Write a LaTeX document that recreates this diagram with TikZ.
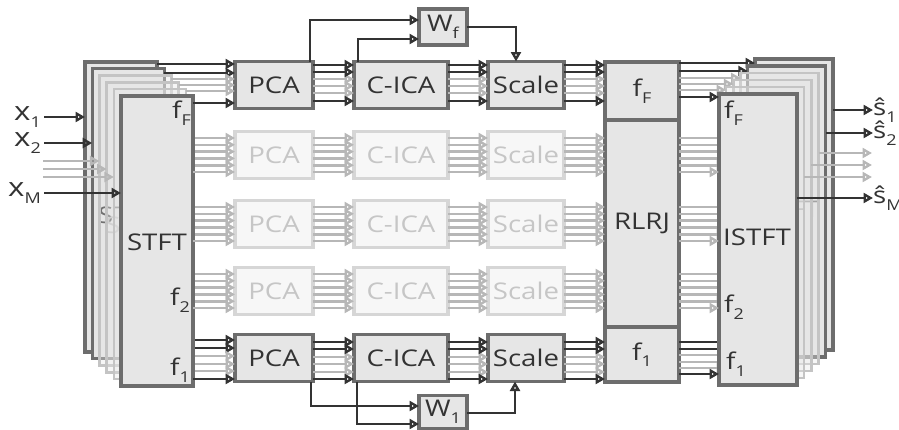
\documentclass[tikz,border=0pt]{standalone}
\usepackage{fontspec}
\setmainfont{Open Sans}[FakeStretch=1.2]
\usetikzlibrary{arrows.meta}
\definecolor{dk}{HTML}{333333}
\definecolor{bd}{HTML}{6D6D6D}
\definecolor{bf}{HTML}{E6E6E6}
\definecolor{lbd}{HTML}{C4C4C4}
\definecolor{gbd}{HTML}{D6D6D6}
\definecolor{gbf}{HTML}{F7F7F7}
\definecolor{gtx}{HTML}{C6C6C6}
\definecolor{gl}{HTML}{B7B7B7}
\newcommand\fs{\fontsize{23}{26}\selectfont}
\newcommand\fx{\fontsize{26}{30}\selectfont}
\newcommand\sbs[1]{\raisebox{-0.28em}{\fontsize{15}{15}\selectfont #1}}
\begin{document}
\begin{tikzpicture}[x=1pt,y=-1pt,
  box/.style={draw=bd,fill=bf,line width=3.2pt,inner sep=0pt,outer sep=0pt,text=dk,font=\fs},
  lbox/.style={draw=lbd,fill=bf,fill opacity=0.35,line width=2.4pt,inner sep=0pt,outer sep=0pt},
  gbox/.style={draw=gbd,fill=gbf,line width=3.2pt,inner sep=0pt,outer sep=0pt,text=gtx,font=\fs},
  lbl/.style={inner sep=0pt,font=\fs,text=dk},
  arD/.style={draw=dk,line width=2.6pt,-{Triangle[open,length=9.5pt,width=10pt]}},
  arG/.style={draw=gl,line width=2.6pt,-{Triangle[open,length=9.5pt,width=10pt]}}]
\useasboundingbox (0,0) rectangle (899,429);

% pipeline rows
\foreach \rr/\cy/\st in {A/85/box, B/155/gbox, C/224/gbox, D/291/gbox, E/358/box} {
  \node[\st, minimum width=78pt, minimum height=47pt] (pca\rr) at (274,\cy) {PCA};
  \node[\st, minimum width=94pt, minimum height=47pt] (cica\rr) at (401,\cy) {C-ICA};
  \node[\st, minimum width=76pt, minimum height=47pt] (scale\rr) at (526,\cy) {Scale};
}
% RLRJ
\node[box, minimum width=74pt, minimum height=58pt, anchor=north west] (rlrjF) at (605,62) {f\sbs{F}};
\node[box, minimum width=74pt, minimum height=207pt, anchor=north west] (rlrjM) at (605,120) {RLRJ};
\node[box, minimum width=74pt, minimum height=55pt, anchor=north west] (rlrj1) at (605,327) {f\sbs{1}};
% W boxes
\node[box, minimum width=48pt, minimum height=36pt] (wf) at (443,27) {W\sbs{f}};
\node[box, minimum width=48pt, minimum height=33pt] (w1) at (443,412) {W\sbs{1}};

% inter-stage arrows, gray rows
\foreach \rr/\cy in {B/155, C/224, D/291} {
  \foreach \ii in {0,...,5} {
    \pgfmathsetmacro\yy{\cy-17+6.8*\ii}
    \draw[arG] (pca\rr.east |- 0,\yy) -- (cica\rr.west |- 0,\yy);
    \draw[arG] (cica\rr.east |- 0,\yy) -- (scale\rr.west |- 0,\yy);
    \draw[arG] (scale\rr.east |- 0,\yy) -- (rlrjM.west |- 0,\yy);
  }
}
% top row
\foreach \yy/\aro in {79/arG, 86/arG, 93/arG, 65/arD, 72/arD, 101/arD} {
  \draw[\aro] (pcaA.east |- 0,\yy) -- (cicaA.west |- 0,\yy);
  \draw[\aro] (cicaA.east |- 0,\yy) -- (scaleA.west |- 0,\yy);
  \draw[\aro] (scaleA.east |- 0,\yy) -- (rlrjF.west |- 0,\yy);
}
% bottom row
\foreach \yy/\aro in {357/arG, 364/arG, 372/arG, 342/arD, 349/arD, 379/arD} {
  \draw[\aro] (pcaE.east |- 0,\yy) -- (cicaE.west |- 0,\yy);
  \draw[\aro] (cicaE.east |- 0,\yy) -- (scaleE.west |- 0,\yy);
  \draw[\aro] (scaleE.east |- 0,\yy) -- (rlrj1.west |- 0,\yy);
}

% STFT stack
\foreach \kk/\ya/\ye/\st/\aro in {0/64/340/box/arD, 1/73/348/box/arD, 2/79/356/lbox/arG, 3/85/364/lbox/arG, 4/91/371/lbox/arG, 5/103/379/box/arD} {
  \pgfmathsetmacro\xL{85+7.2*\kk}
  \pgfmathsetmacro\yT{62+6.8*\kk}
  \node[\st, minimum width=72pt, minimum height=290pt, anchor=north west] (stft\kk) at (\xL,\yT) {};
  \ifnum\kk=1 \node[lbl] (stftl1) at (\xL+36,\yT+146) {STFT}; \fi
  \ifnum\kk=2 \node[lbl, text=gtx] (stftl2) at (\xL+36,\yT+150) {STFT}; \fi
  \foreach \rr/\cy in {B/155, C/224, D/291} {
    \pgfmathsetmacro\yy{\cy-17+6.8*\kk}
    \draw[arG] (stft\kk.east |- 0,\yy) -- (pca\rr.west |- 0,\yy);
  }
  \draw[\aro] (stft\kk.east |- 0,\ya) -- (pcaA.west |- 0,\ya);
  \draw[\aro] (stft\kk.east |- 0,\ye) -- (pcaE.west |- 0,\ye);
}
\node[lbl] (stftl5) at (157,242) {STFT};
\node[lbl, anchor=east] (sfF) at (191,113) {f\sbs{F}};
\node[lbl] (sf2) at (180,300) {f\sbs{2}};
\node[lbl] (sf1) at (180,370) {f\sbs{1}};

% ISTFT stack
\foreach \kk/\ya/\ye/\st/\aro in {0/63/342/box/arD, 1/71/349/box/arD, 2/78/355/lbox/arG, 3/84/362/lbox/arG, 4/90/368/lbox/arG, 5/97/374/box/arD} {
  \pgfmathsetmacro\xL{755-7.2*\kk}
  \pgfmathsetmacro\yT{59+7*\kk}
  \node[\st, minimum width=78pt, minimum height=291pt, anchor=north west] (istft\kk) at (\xL,\yT) {};
  \ifnum\kk=1 \node[lbl, text=gray] (istftl1) at (\xL+38,\yT+143) {ISTFT}; \fi
  \foreach \rr/\cy in {B/155, C/224, D/291} {
    \pgfmathsetmacro\yy{\cy-17+6.8*\kk}
    \draw[arG] (rlrjM.east |- 0,\yy) -- (istft\kk.west |- 0,\yy);
  }
  \draw[\aro] (rlrjF.east |- 0,\ya) -- (istft\kk.west |- 0,\ya);
  \draw[\aro] (rlrj1.east |- 0,\ye) -- (istft\kk.west |- 0,\ye);
}
\node[lbl] (istftl5) at (757,237) {ISTFT};
\node[lbl, anchor=west] (ifF) at (724,113) {f\sbs{F}};
\node[lbl, anchor=west] (if2) at (724,307) {f\sbs{2}};
\node[lbl, anchor=west] (if1) at (726,364) {f\sbs{1}};

% feedback to W
\draw[arD] ([xshift=-3pt]pcaA.north east) |- ([yshift=7pt]wf.west);
\draw[arD] ([xshift=4pt]cicaA.north west) |- ([yshift=-12pt]wf.west);
\draw[arD] (wf.east) -| ([xshift=-10pt]scaleA.north);
\draw[arD] ([xshift=-2pt]pcaE.south east) |- ([yshift=6pt]w1.west);
\draw[arD] ([xshift=3pt]cicaE.south west) |- ([yshift=-12pt]w1.west);
\draw[arD] ([yshift=-1pt]w1.east) -| ([xshift=-11pt]scaleE.south);

% inputs
\node[lbl, font=\fx, anchor=east] (x1) at (41,117) {x\sbs{1}};
\node[lbl, font=\fx, anchor=east] (x2) at (41,143) {x\sbs{2}};
\node[lbl, font=\fx, anchor=east] (xM) at (41,193) {x\sbs{M}};
\draw[arD] ([xshift=3pt]x1.east) -- (stft0.west |- x1.east);
\draw[arD] ([xshift=3pt]x2.east) -- (stft1.west |- x2.east);
\coordinate (xg2) at (43,161);
\coordinate (xg3) at (43,169);
\coordinate (xg4) at (43,177);
\draw[arG] (xg2) -- (stft2.west |- xg2);
\draw[arG] (xg3) -- (stft3.west |- xg3);
\draw[arG] (xg4) -- (stft4.west |- xg4);
\draw[arD] ([xshift=3pt]xM.east) -- (stft5.west |- xM.east);

% outputs
\node[lbl, anchor=west] (s1) at (873,110) {ŝ\sbs{1}};
\node[lbl, anchor=west] (s2) at (873,133) {ŝ\sbs{2}};
\node[lbl, anchor=west] (sM) at (873,198) {ŝ\sbs{M}};
\coordinate (og2) at (872,153);
\coordinate (og3) at (872,165);
\coordinate (og4) at (872,177);
\draw[arD] (istft0.east |- s1.west) -- (s1.west);
\draw[arD] (istft1.east |- s2.west) -- (s2.west);
\draw[arG] (istft2.east |- og2) -- (og2);
\draw[arG] (istft3.east |- og3) -- (og3);
\draw[arG] (istft4.east |- og4) -- (og4);
\draw[arD] (istft5.east |- sM.west) -- (sM.west);
\end{tikzpicture}
\end{document}
